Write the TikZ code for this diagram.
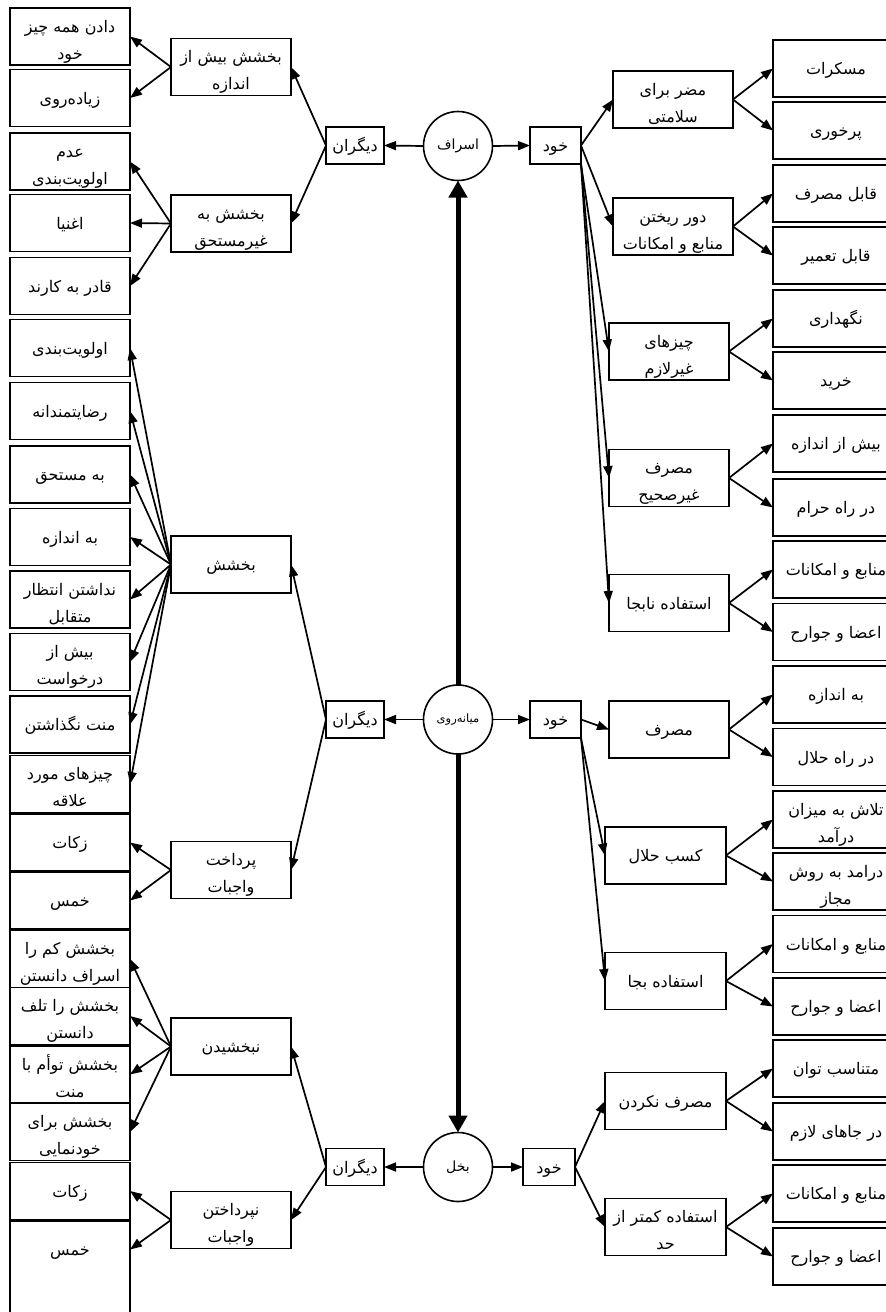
\documentclass[tikz,border=0pt]{standalone}
\usepackage{fontspec}
\usetikzlibrary{arrows.meta,calc}
\TeXXeTstate=1
\newfontfamily\arabicfont[Script=Arabic]{DejaVu Sans}
\newcommand{\fatxt}[1]{\beginR #1\endR}
\newcommand{\tln}[2]{\raisebox{-2pt}{\begin{tabular}{@{}c@{}}#1\\#2\end{tabular}}}
\newcommand{\boxfont}{\arabicfont\fontsize{16}{27}\selectfont}
\newcommand{\circfont}{\arabicfont\fontsize{14}{16}\selectfont}
\newcommand{\smallcircfont}{\arabicfont\fontsize{11.5}{14}\selectfont}
\tikzset{
  basebox/.style={draw, line width=1.9pt, inner sep=0pt, outer sep=0pt, font=\boxfont, text height=14pt, text depth=2pt},
  lbox/.style={basebox, minimum width=120pt, minimum height=57pt},
  mbox/.style={basebox, minimum width=120pt, minimum height=57pt},
  rbox/.style={basebox, minimum width=126pt, minimum height=57pt},
  sbox/.style={basebox, minimum width=58pt, minimum height=37pt},
  kbox/.style={basebox, minimum width=51pt, minimum height=37pt},
  cnode/.style={draw, circle, line width=1.6pt, minimum size=69pt, inner sep=0pt, outer sep=0pt, font=\circfont},
  arr/.style={line width=1.7pt, -{Triangle[length=12pt,width=9pt]}},
  bigarr/.style={line width=5pt, -{Triangle[length=17pt,width=18pt]}},
}
\begin{document}
\begin{tikzpicture}[x=1pt,y=-1pt]
\useasboundingbox (0,0) rectangle (886,1312);
\clip (0,0) rectangle (886,1312);

% ---------- left leaves ----------
\node[lbox] (L1)  at (70,36.5)  {\tln{\beginR دادن همه چیز\endR}{\beginR خود\endR}};
\node[lbox] (L2)  at (70,98)    {\beginR زیاده^^^^200cروی\endR};
\node[lbox] (L3)  at (70,161.5) {\tln{\beginR عدم\endR}{\beginR اولویت^^^^200cبندی\endR}};
\node[lbox] (L4)  at (70,223)   {\beginR اغنیا\endR};
\node[lbox] (L5)  at (70,286)   {\beginR قادر به کارند\endR};
\node[lbox] (L6)  at (70,348)   {\beginR اولویت^^^^200cبندی\endR};
\node[lbox] (L7)  at (70,411)   {\beginR رضایتمندانه\endR};
\node[lbox] (L8)  at (70,474.5) {\beginR به مستحق\endR};
\node[lbox] (L9)  at (70,537)   {\beginR به اندازه\endR};
\node[lbox] (L10) at (70,599.5) {\tln{\beginR نداشتن انتظار\endR}{\beginR متقابل\endR}};
\node[lbox] (L11) at (70,662)   {\tln{\beginR بیش از\endR}{\beginR درخواست\endR}};
\node[lbox] (L12) at (70,724.5) {\beginR منت نگذاشتن\endR};
\node[lbox] (L13) at (70,784)   {\tln{\beginR چیزهای مورد\endR}{\beginR علاقه\endR}};
\node[lbox] (L14) at (70,842.5) {\beginR زکات\endR};
\node[lbox] (L15) at (70,900.5) {\beginR خمس\endR};
\node[lbox] (L16) at (70,959)   {\tln{\beginR بخشش کم را\endR}{\beginR اسراف دانستن\endR}};
\node[lbox] (L17) at (70,1016)  {\tln{\beginR بخشش را تلف\endR}{\beginR دانستن\endR}};
\node[lbox] (L18) at (70,1074.5){\tln{\beginR بخشش توأم با\endR}{\beginR منت\endR}};
\node[lbox] (L19) at (70,1132)  {\tln{\beginR بخشش برای\endR}{\beginR خودنمایی\endR}};
\node[lbox] (L20) at (70,1191)  {\beginR زکات\endR};
\node[lbox, draw=none] (L21) at (70,1249.5) {\beginR خمس\endR};
\draw[line width=1.9pt] ($(L21.south west)+(0,50)$) -- (L21.north west) -- (L21.north east) -- ($(L21.south east)+(0,50)$);

% ---------- left middle ----------
\node[mbox] (M1) at (231,67)     {\tln{\beginR بخشش بیش از\endR}{\beginR اندازه\endR}};
\node[mbox] (M2) at (231,223.5)  {\tln{\beginR بخشش به\endR}{\beginR غیرمستحق\endR}};
\node[mbox] (M3) at (231,564.5)  {\beginR بخشش\endR};
\node[mbox] (M4) at (231,870)    {\tln{\beginR پرداخت\endR}{\beginR واجبات\endR}};
\node[mbox] (M5) at (231,1046.5) {\beginR نبخشیدن\endR};
\node[mbox] (M6) at (231,1220)   {\tln{\beginR نپرداختن\endR}{\beginR واجبات\endR}};

% ---------- centre ----------
\node[sbox] (D1) at (355,145.5) {\beginR دیگران\endR};
\node[cnode] (C1) at (458,146)  {\beginR اسراف\endR};
\node[kbox] (K1) at (555.5,145.5) {\beginR خود\endR};
\node[sbox] (D2) at (355,719.5) {\beginR دیگران\endR};
\node[cnode, font=\smallcircfont] (C2) at (458,719.5) {\beginR میانه^^^^200cروی\endR};
\node[kbox] (K2) at (555.5,719.5) {\beginR خود\endR};
\node[sbox] (D3) at (355,1167) {\beginR دیگران\endR};
\node[cnode] (C3) at (458,1167) {\beginR بخل\endR};
\node[kbox, minimum width=52pt] (K3) at (549,1167) {\beginR خود\endR};

% ---------- right middle ----------
\node[mbox] (R1)  at (673,99.5)   {\tln{\beginR مضر برای\endR}{\beginR سلامتی\endR}};
\node[mbox] (R2)  at (673,226.5)  {\tln{\beginR دور ریختن\endR}{\beginR منابع و امکانات\endR}};
\node[mbox] (R3)  at (669,351.5)  {\tln{\beginR چیزهای\endR}{\beginR غیرلازم\endR}};
\node[mbox] (R4)  at (669,478)    {\tln{\beginR مصرف\endR}{\beginR غیرصحیح\endR}};
\node[mbox] (R5)  at (669,603)    {\beginR استفاده نابجا\endR};
\node[mbox] (R6)  at (669,729.5)  {\beginR مصرف\endR};
\node[mbox, minimum width=121pt] (R7)  at (665.5,855.5) {\beginR کسب حلال\endR};
\node[mbox, minimum width=121pt] (R8)  at (665.5,981)   {\beginR استفاده بجا\endR};
\node[mbox, minimum width=121pt] (R9)  at (665.5,1101)  {\beginR مصرف نکردن\endR};
\node[mbox, minimum width=121pt] (R10) at (665.5,1227)  {\tln{\beginR استفاده کمتر از\endR}{\beginR حد\endR}};

% ---------- right leaves ----------
\node[rbox] (T1)  at (836,68.5)   {\beginR مسکرات\endR};
\node[rbox] (T2)  at (836,130.5)  {\beginR پرخوری\endR};
\node[rbox] (T3)  at (836,193.5)  {\beginR قابل مصرف\endR};
\node[rbox] (T4)  at (836,255.5)  {\beginR قابل تعمیر\endR};
\node[rbox] (T5)  at (836,318.5)  {\beginR نگهداری\endR};
\node[rbox] (T6)  at (836,380.5)  {\beginR خرید\endR};
\node[rbox] (T7)  at (836,443.5)  {\beginR بیش از اندازه\endR};
\node[rbox] (T8)  at (836,507.5)  {\beginR در راه حرام\endR};
\node[rbox] (T9)  at (836,569.5)  {\beginR منابع و امکانات\endR};
\node[rbox] (T10) at (836,632)    {\beginR اعضا و جوارح\endR};
\node[rbox] (T11) at (836,694.5)  {\beginR به اندازه\endR};
\node[rbox] (T12) at (836,757)    {\beginR در راه حلال\endR};
\node[rbox] (T13) at (836,819.5)  {\tln{\beginR تلاش به میزان\endR}{\beginR درآمد\endR}};
\node[rbox] (T14) at (836,881.5)  {\tln{\beginR درامد به روش\endR}{\beginR مجاز\endR}};
\node[rbox] (T15) at (836,944)    {\beginR منابع و امکانات\endR};
\node[rbox] (T16) at (836,1006.5) {\beginR اعضا و جوارح\endR};
\node[rbox] (T17) at (836,1068.5) {\beginR متناسب توان\endR};
\node[rbox] (T18) at (836,1131.5) {\beginR در جاهای لازم\endR};
\node[rbox] (T19) at (836,1193.5) {\beginR منابع و امکانات\endR};
\node[rbox] (T20) at (836,1256.5) {\beginR اعضا و جوارح\endR};

% ---------- thick vertical axis ----------
\draw[bigarr] (C2.north) -- (C1.south);
\draw[bigarr] (C2.south) -- (C3.north);

% ---------- centre arrows ----------
\foreach \c/\d/\k in {C1/D1/K1, C2/D2/K2, C3/D3/K3} {
  \draw[arr] (\c.west) -- (\d.east);
  \draw[arr] (\c.east) -- (\k.west);
}

% ---------- left arrows ----------
\draw[arr] (D1.west) -- (M1.east);
\draw[arr] (D1.west) -- (M2.east);
\draw[arr] (D2.west) -- (M3.east);
\draw[arr] (D2.west) -- (M4.east);
\draw[arr] (D3.west) -- (M5.east);
\draw[arr] (D3.west) -- (M6.east);
\foreach \t in {L1,L2} \draw[arr] (M1.west) -- (\t.east);
\foreach \t in {L3,L4,L5} \draw[arr] (M2.west) -- (\t.east);
\foreach \t in {L6,L7,L8,L9,L10,L11,L12,L13} \draw[arr] (M3.west) -- (\t.east);
\foreach \t in {L14,L15} \draw[arr] (M4.west) -- (\t.east);
\foreach \t in {L16,L17,L18,L19} \draw[arr] (M5.west) -- (\t.east);
\foreach \t in {L20,L21} \draw[arr] (M6.west) -- (\t.east);

% ---------- right arrows ----------
\draw[arr] (K1.east) -- (R1.west);
\draw[arr] (K1.east) -- (R2.west);
\foreach \t in {R3,R4,R5} \draw[arr] (K1.south east) -- (\t.west);
\draw[arr] (K2.east) -- (R6.west);
\foreach \t in {R7,R8} \draw[arr] (K2.south east) -- (\t.west);
\draw[arr] (K3.east) -- (R9.west);
\draw[arr] (K3.east) -- (R10.west);
\foreach \s/\a/\b in {R1/T1/T2, R2/T3/T4, R3/T5/T6, R4/T7/T8, R5/T9/T10, R6/T11/T12, R7/T13/T14, R8/T15/T16, R9/T17/T18, R10/T19/T20} {
  \draw[arr] (\s.east) -- (\a.west);
  \draw[arr] (\s.east) -- (\b.west);
}
\end{tikzpicture}
\end{document}
